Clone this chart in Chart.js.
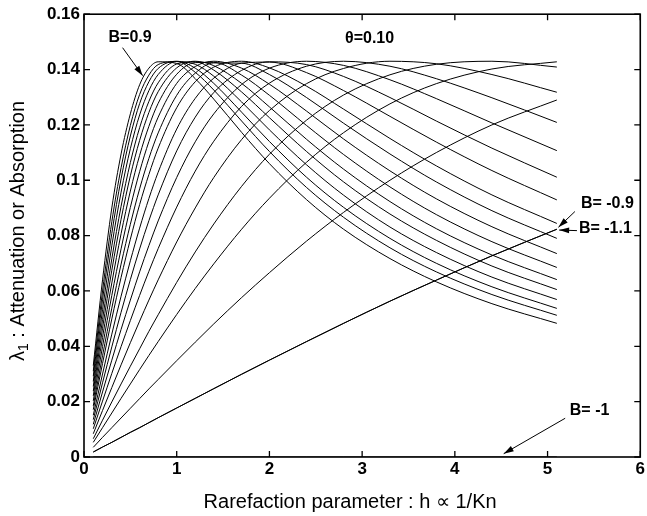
<!DOCTYPE html>
<html><head><meta charset="utf-8">
<script src="https://cdn.jsdelivr.net/npm/chart.js@4.4.0/dist/chart.umd.min.js"></script>
<style>html,body{margin:0;padding:0;background:#fff}</style>
</head><body>
<canvas id="c" width="647" height="516" style="display:block;width:647px;height:516px"></canvas>
<script>
// Rarefaction parameter h (sample points along every curve)
const h = [0.1,0.2,0.3,0.4,0.5,0.6,0.7,0.8,1.0,1.2,1.4,1.7,2.0,2.4,2.8,3.3,3.8,4.4,5.1];
// lambda_1 for each value of B (theta = 0.10)
const lam_B_p09 = [0.0330,0.0640,0.0900,0.1095,0.1240,0.1345,0.1405,0.1428,0.1422,0.1367,0.1293,0.1173,0.1060,0.0930,0.0823,0.0717,0.0633,0.0554,0.0483];
const lam_B_p08 = [0.0310,0.0600,0.0850,0.1045,0.1198,0.1310,0.1380,0.1418,0.1429,0.1390,0.1326,0.1214,0.1104,0.0974,0.0866,0.0756,0.0669,0.0587,0.0512];
const lam_B_p07 = [0.0292,0.0568,0.0808,0.1005,0.1160,0.1277,0.1356,0.1404,0.1430,0.1405,0.1350,0.1246,0.1140,0.1011,0.0902,0.0790,0.0700,0.0615,0.0537];
const lam_B_p06 = [0.0273,0.0532,0.0763,0.0957,0.1114,0.1236,0.1324,0.1382,0.1429,0.1419,0.1376,0.1283,0.1182,0.1056,0.0946,0.0831,0.0739,0.0650,0.0569];
const lam_B_p05 = [0.0255,0.0497,0.0716,0.0906,0.1064,0.1190,0.1285,0.1352,0.1420,0.1428,0.1398,0.1319,0.1226,0.1104,0.0994,0.0878,0.0783,0.0690,0.0605];
const lam_B_p04 = [0.0238,0.0465,0.0675,0.0859,0.1016,0.1144,0.1245,0.1320,0.1406,0.1430,0.1414,0.1350,0.1265,0.1148,0.1040,0.0923,0.0825,0.0730,0.0641];
const lam_B_p03 = [0.0221,0.0432,0.0629,0.0807,0.0961,0.1090,0.1195,0.1278,0.1383,0.1425,0.1426,0.1380,0.1307,0.1198,0.1093,0.0976,0.0876,0.0778,0.0685];
const lam_B_p02 = [0.0203,0.0399,0.0584,0.0752,0.0902,0.1031,0.1140,0.1228,0.1350,0.1411,0.1430,0.1405,0.1347,0.1250,0.1149,0.1034,0.0933,0.0832,0.0735];
const lam_B_p01 = [0.0185,0.0366,0.0538,0.0697,0.0841,0.0969,0.1079,0.1171,0.1307,0.1387,0.1424,0.1423,0.1382,0.1299,0.1206,0.1095,0.0994,0.0890,0.0790];
const lam_B_0   = [0.0171,0.0338,0.0499,0.0649,0.0787,0.0912,0.1021,0.1116,0.1262,0.1356,0.1409,0.1430,0.1406,0.1340,0.1257,0.1151,0.1052,0.0947,0.0844];
const lam_B_m01 = [0.0151,0.0300,0.0444,0.0581,0.0709,0.0827,0.0934,0.1029,0.1185,0.1296,0.1369,0.1423,0.1427,0.1389,0.1324,0.1231,0.1138,0.1035,0.0929];
const lam_B_m02 = [0.0135,0.0268,0.0398,0.0523,0.0641,0.0752,0.0854,0.0947,0.1106,0.1228,0.1317,0.1397,0.1428,0.1418,0.1375,0.1299,0.1214,0.1116,0.1011];
const lam_B_m03 = [0.0118,0.0235,0.0350,0.0461,0.0567,0.0669,0.0764,0.0853,0.1010,0.1139,0.1240,0.1346,0.1405,0.1430,0.1415,0.1363,0.1295,0.1207,0.1107];
const lam_B_m04 = [0.0102,0.0202,0.0302,0.0399,0.0493,0.0584,0.0671,0.0753,0.0903,0.1033,0.1141,0.1267,0.1351,0.1412,0.1430,0.1412,0.1367,0.1298,0.1209];
const lam_B_m05 = [0.0084,0.0168,0.0251,0.0333,0.0413,0.0491,0.0567,0.0640,0.0777,0.0900,0.1010,0.1147,0.1252,0.1349,0.1404,0.1430,0.1421,0.1382,0.1318];
const lam_B_m06 = [0.0066,0.0133,0.0199,0.0264,0.0328,0.0391,0.0454,0.0514,0.0631,0.0741,0.0842,0.0978,0.1094,0.1217,0.1308,0.1381,0.1419,0.1430,0.1409];
const lam_B_m07 = [0.0053,0.0106,0.0159,0.0212,0.0264,0.0316,0.0367,0.0417,0.0515,0.0609,0.0698,0.0823,0.0935,0.1065,0.1172,0.1276,0.1349,0.1402,0.1428];
const lam_B_m08 = [0.0035,0.0071,0.0106,0.0141,0.0176,0.0211,0.0246,0.0280,0.0348,0.0415,0.0481,0.0576,0.0666,0.0780,0.0884,0.1000,0.1100,0.1200,0.1290];
const lam_B_m09 = [0.0018,0.0036,0.0053,0.0071,0.0089,0.0106,0.0124,0.0142,0.0177,0.0212,0.0247,0.0299,0.0350,0.0417,0.0483,0.0563,0.0639,0.0727,0.0823];
const lam_B_m11 = [0.0018,0.0036,0.0053,0.0071,0.0089,0.0106,0.0124,0.0142,0.0177,0.0212,0.0247,0.0299,0.0350,0.0417,0.0483,0.0563,0.0639,0.0727,0.0823];
const lam_B_m10 = [0,0,0,0,0,0,0,0,0,0,0,0,0,0,0,0,0,0,0];

const seriesNames = ['B=0.9','B=0.8','B=0.7','B=0.6','B=0.5','B=0.4','B=0.3','B=0.2','B=0.1','B=0','B=-0.1','B=-0.2','B=-0.3','B=-0.4','B=-0.5','B=-0.6','B=-0.7','B=-0.8','B=-0.9','B=-1.1','B=-1'];
const seriesValues = [lam_B_p09,lam_B_p08,lam_B_p07,lam_B_p06,lam_B_p05,lam_B_p04,lam_B_p03,lam_B_p02,lam_B_p01,lam_B_0,lam_B_m01,lam_B_m02,lam_B_m03,lam_B_m04,lam_B_m05,lam_B_m06,lam_B_m07,lam_B_m08,lam_B_m09,lam_B_m11,lam_B_m10];

const xTickLabels = ['0','1','2','3','4','5','6'];
const yTickLabels = ['0','0.02','0.04','0.06','0.08','0.1','0.12','0.14','0.16'];
const xTitle = 'Rarefaction parameter : h \u221D 1/Kn';

// annotations (in data units)
const notes = [
  {text:'B=0.9',   x:0.497, y:0.1517, align:'center'},
  {text:'\u03B8=0.10', x:3.08, y:0.1513, align:'center'},
  {text:'B= -0.9', x:5.36,  y:0.0914, align:'left'},
  {text:'B= -1.1', x:5.338, y:0.0824, align:'left'},
  {text:'B= -1',   x:5.24,  y:0.0169, align:'left'}
];
const arrows = [
  [0.416,0.1479,0.633,0.1378],
  [5.295,0.0887,5.117,0.0830],
  [5.317,0.0818,5.125,0.0820],
  [5.19,0.0140,4.527,0.0012]
];

const FONT = '"Liberation Sans", Arial, Helvetica, sans-serif';

const datasets = seriesValues.map((vals,i)=>({
  label: seriesNames[i],
  data: vals.map((v,j)=>({x:h[j], y:v})),
  borderColor:'#000', borderWidth:1, pointRadius:0, fill:false,
  cubicInterpolationMode:'monotone'
}));

function arrow(ctx,x1,y1,x2,y2){
  ctx.beginPath(); ctx.moveTo(x1,y1); ctx.lineTo(x2,y2); ctx.stroke();
  const a=Math.atan2(y2-y1,x2-x1), len=10, w=3;
  ctx.beginPath();
  ctx.moveTo(x2,y2);
  ctx.lineTo(x2-len*Math.cos(a)+w*Math.sin(a), y2-len*Math.sin(a)-w*Math.cos(a));
  ctx.lineTo(x2-len*Math.cos(a)-w*Math.sin(a), y2-len*Math.sin(a)+w*Math.cos(a));
  ctx.closePath(); ctx.fill();
}

const decor = {
  id:'decor',
  afterDraw(chart){
    const {ctx, chartArea:a, scales:{x,y}} = chart;
    ctx.save();
    ctx.strokeStyle='#000'; ctx.fillStyle='#000';
    ctx.lineWidth=1.6;
    ctx.strokeRect(a.left, a.top, a.right-a.left, a.bottom-a.top);
    ctx.lineWidth=1.3;
    const L=6;
    ctx.beginPath();
    x.ticks.forEach(t=>{const p=x.getPixelForValue(t.value);
      ctx.moveTo(p,a.bottom); ctx.lineTo(p,a.bottom-L);
      ctx.moveTo(p,a.top); ctx.lineTo(p,a.top+L);});
    y.ticks.forEach(t=>{const p=y.getPixelForValue(t.value);
      ctx.moveTo(a.left,p); ctx.lineTo(a.left+L,p);
      ctx.moveTo(a.right,p); ctx.lineTo(a.right-L,p);});
    ctx.stroke();

    // annotations
    ctx.font='bold 16px '+FONT;
    ctx.textBaseline='middle';
    notes.forEach(n=>{ctx.textAlign=n.align; ctx.fillText(n.text, x.getPixelForValue(n.x), y.getPixelForValue(n.y));});
    ctx.lineWidth=1;
    arrows.forEach(r=>arrow(ctx,x.getPixelForValue(r[0]),y.getPixelForValue(r[1]),x.getPixelForValue(r[2]),y.getPixelForValue(r[3])));

    // x title
    ctx.font='20px '+FONT;
    ctx.textAlign='center';
    ctx.fillText(xTitle, x.getPixelForValue(2.87), 502);

    // y title with subscript
    ctx.translate(18, 231);
    ctx.rotate(-Math.PI/2);
    const f1='20px '+FONT, f2='14px '+FONT;
    const p1='\u03BB', p2='1', p3=' : Attenuation or Absorption';
    ctx.font=f1; const w1=ctx.measureText(p1).width, w3=ctx.measureText(p3).width;
    ctx.font=f2; const w2=ctx.measureText(p2).width;
    let sx=-(w1+w2+w3)/2;
    ctx.textAlign='left';
    ctx.font=f1; ctx.fillText(p1,sx,0); sx+=w1;
    ctx.font=f2; ctx.fillText(p2,sx,6); sx+=w2;
    ctx.font=f1; ctx.fillText(p3,sx,0);
    ctx.restore();
  }
};

new Chart(document.getElementById('c'), {
  type:'line',
  data:{datasets},
  options:{
    responsive:false, animation:false, devicePixelRatio:1,
    layout:{padding:{top:13,right:1,left:0,bottom:0}, autoPadding:false},
    plugins:{legend:{display:false}, tooltip:{enabled:false}},
    scales:{
      x:{type:'linear', min:0, max:6,
        ticks:{stepSize:1, padding:2, color:'#000', font:{family:FONT,size:17,weight:'bold'},
          maxRotation:0, autoSkip:false,
          callback:(v,i)=>xTickLabels[i]},
        grid:{display:false, drawTicks:false}, border:{display:false},
        afterFit:s=>{s.height=59;}},
      y:{type:'linear', min:0, max:0.16,
        ticks:{stepSize:0.02, padding:4, color:'#000', font:{family:FONT,size:17,weight:'bold'},
          autoSkip:false, callback:(v,i)=>yTickLabels[i]},
        grid:{display:false, drawTicks:false}, border:{display:false},
        afterFit:s=>{s.width=84;}}
    }
  },
  plugins:[decor]
});
</script>
</body></html>
